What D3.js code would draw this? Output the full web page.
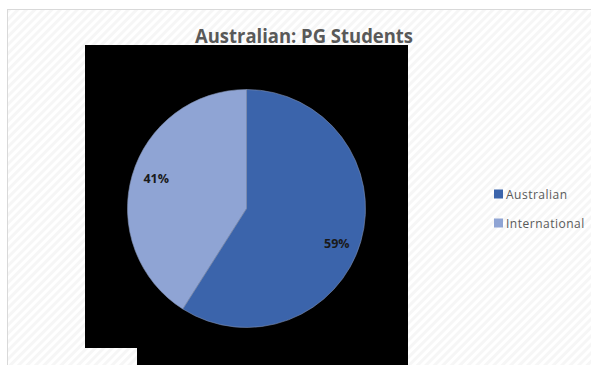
<!DOCTYPE html>
<html>
<head>
<meta charset="utf-8">
<script src="https://cdn.jsdelivr.net/npm/d3@7"></script>
<style>
  html, body { margin: 0; padding: 0; background: #fff; }
  svg { display: block; }
</style>
</head>
<body>
<svg id="chart" width="591" height="365"></svg>
<script>
const categories = ["Australian", "International"];
const values = [59, 41];
const colors = ["#3b64ab", "#8fa4d4"];
const title = "Australian: PG Students";

const W = 591, H = 365;
const svg = d3.select("#chart");

// hatch background
const defs = svg.append("defs");
const pat = defs.append("pattern")
  .attr("id", "hatch").attr("patternUnits", "userSpaceOnUse")
  .attr("width", 6).attr("height", 6)
  .attr("patternTransform", "rotate(45)");
pat.append("rect").attr("width", 6).attr("height", 6).attr("fill", "#ffffff");
pat.append("rect").attr("width", 3).attr("height", 6).attr("fill", "#f6f6f6");

svg.append("rect").attr("x", 0).attr("y", 0).attr("width", W).attr("height", H).attr("fill", "#fff");
svg.append("rect").attr("x", 7.5).attr("y", 9.5).attr("width", W).attr("height", H)
  .attr("fill", "url(#hatch)").attr("stroke", "#d9d9d9").attr("stroke-width", 1);

// black artefact behind pie
svg.append("path")
  .attr("d", "M85,45 H408 V365 H137 V348 H85 Z")
  .attr("fill", "#000");

// title
svg.append("text")
  .attr("x", 304).attr("y", 43)
  .attr("text-anchor", "middle")
  .attr("font-family", "Open Sans, sans-serif")
  .attr("font-weight", "bold")
  .attr("font-size", 19)
  .attr("fill", "#595959")
  .attr("textLength", 218).attr("lengthAdjust", "spacingAndGlyphs")
  .text(title);

// pie
const cx = 246.5, cy = 208.5, r = 119;
const pie = d3.pie().sort(null).value(d => d);
const arcs = pie(values);
const arc = d3.arc().innerRadius(0).outerRadius(r);
const g = svg.append("g").attr("transform", `translate(${cx},${cy})`);
g.selectAll("path.slice").data(arcs).enter().append("path")
  .attr("class", "slice")
  .attr("d", arc)
  .attr("fill", (d, i) => colors[i])
  .attr("stroke", "#7f8fb0").attr("stroke-width", 0.6);

const labelArc = d3.arc().innerRadius(94).outerRadius(94);
const labelNudge = [9, -4];
g.selectAll("text.lbl").data(arcs).enter().append("text")
  .attr("class", "lbl")
  .attr("transform", (d, i) => {
    const c = labelArc.centroid(d);
    return `translate(${c[0]},${c[1] + labelNudge[i]})`;
  })
  .attr("text-anchor", "middle")
  .attr("dominant-baseline", "central")
  .attr("font-family", "Open Sans, sans-serif")
  .attr("font-weight", "bold")
  .attr("font-size", 12.5)
  .attr("fill", "#1a1a1a")
  .text(d => Math.round(d.data) + "%");

// legend
const leg = svg.append("g");
categories.forEach((c, i) => {
  const y = 194 + i * 29;
  leg.append("rect").attr("x", 494).attr("y", y - 4.5).attr("width", 9).attr("height", 9).attr("fill", colors[i]);
  leg.append("text").attr("x", 506).attr("y", y)
    .attr("dominant-baseline", "central")
    .attr("font-family", "Open Sans, sans-serif")
    .attr("font-size", 12)
    .attr("letter-spacing", 0.5)
    .attr("fill", "#595959")
    .text(c);
});
</script>
</body>
</html>
